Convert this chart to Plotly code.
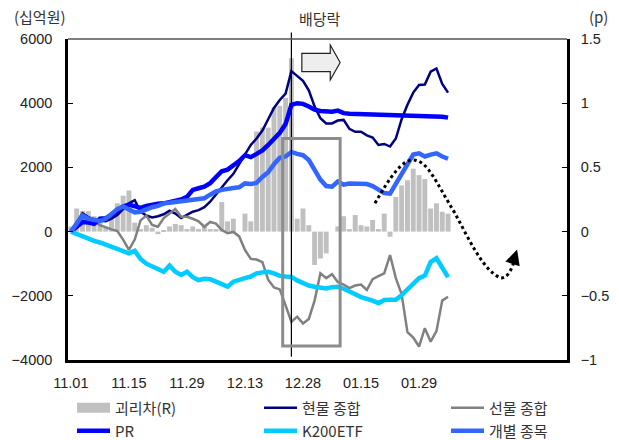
import plotly.graph_objects as go

# 거래일 인덱스 (11.01 = 0), 배당락일 = 38
days = list(range(66))
tick_pos = [0, 10, 20, 30, 40, 50, 60]
tick_labels = ['11.01', '11.15', '11.29', '12.13', '12.28', '01.15', '01.29']
ex_div_day = 38

# 괴리차 (p, 우축)
basis_gap = [0.04, 0.18, 0.16, 0.16, 0.12, 0.08, 0.03, 0.11, 0.22, 0.28,
             0.32, 0.07, 0.02, 0.05, 0.03, -0.02, 0.01, 0.04, 0.06, 0.05,
             0.02, 0.04, 0.02, 0.04, 0.02, 0.02, 0.23, 0.08, 0.10, 0.0,
             0.14, 0.08, 0.78, 0.81, 0.81, 0.97, 0.98, 1.04, 1.35, 0.10,
             0.18, 0.05, -0.26, -0.21, -0.17, 0.0, 0.04, 0.12, 0.02, 0.13,
             0.05, 0.04, 0.09, 0.02, 0.14, -0.04, 0.27, 0.36, 0.40, 0.49,
             0.44, 0.41, 0.18, 0.22, 0.155, 0.14]

# 십억원 (좌축)
spot_total = [0, 300, 570, 450, 380, 340, 320, 400, 520, 700,
              880, 980, 620, 500, 440, 480, 540, 650, 560, 420,
              520, 620, 670, 760, 930, 1150, 1400, 1600, 1800, 2100,
              2420, 2700, 2900, 3150, 3500, 3850, 4100, 4300, 5000, 4850,
              4700, 4400, 3900, 3530, 3370, 3370, 3460, 3480, 3200, 3110,
              3110, 3000, 2930, 2700, 2730, 2650, 2900, 3500, 3950, 4330,
              4570, 4580, 4980, 5080, 4600, 4330]

futures_total = [0, 200, 420, 350, 310, 200, 130, 70, 20, -250,
                 -570, -250, 350, 500, 210, 150, 420, 570, 700, 460,
                 460, 400, 320, 150, 300, 250, 50, -50, -10, -150,
                 -570, -850, -870, -950, -1500, -1740, -1800, -2300, -2810, -2650,
                 -2860, -2720, -2150, -1300, -1450, -1330, -1570, -1650, -1760, -1680,
                 -1650, -1820, -1480, -1390, -1300, -730, -1450, -1950, -3130, -3300,
                 -3580, -3010, -3430, -3100, -2150, -2030]

pr = [0, 150, 300, 280, 240, 400, 420, 520, 640, 780,
      840, 780, 740, 800, 850, 870, 880, 920, 960, 1000,
      1080, 1300, 1350, 1400, 1510, 1700, 1880, 1930, 2050, 2200,
      2380, 2320, 2420, 2530, 2700, 2900, 3080, 3350, 3950, 4000,
      3980, 3900, 3800, 3760, 3740, 3735, 3770, 3690, 3670, 3665,
      3665, 3660, 3650, 3650, 3650, 3650, 3640, 3640, 3640, 3640,
      3630, 3620, 3620, 3600, 3580, 3550]

k200etf = [0, -80, -150, -230, -290, -340, -410, -480, -540, -620,
           -680, -600, -850, -1000, -1080, -1150, -1250, -1060, -1250, -1350,
           -1250, -1420, -1510, -1470, -1480, -1560, -1640, -1715, -1560, -1490,
           -1450, -1400, -1300, -1270, -1250, -1300, -1380, -1400, -1410, -1520,
           -1620, -1680, -1720, -1760, -1770, -1730, -1720, -1780, -1850, -1950,
           -2040, -2080, -2150, -2230, -2130, -2120, -2120, -1980, -1800, -1610,
           -1450, -1370, -950, -830, -1150, -1420]

single_stocks = [0, 250, 500, 400, 350, 330, 400, 550, 700, 780,
                 700, 600, 620, 700, 760, 800, 880, 900, 920, 960,
                 985, 990, 1000, 1040, 1150, 1250, 1300, 1340, 1360, 1380,
                 1500, 1480, 1520, 1700, 1850, 2100, 2300, 2340, 2480, 2420,
                 2380, 2230, 1900, 1620, 1420, 1400, 1560, 1460, 1500, 1500,
                 1500, 1480, 1420, 1300, 1200, 1180, 1500, 1800, 2150, 2400,
                 2440, 2340, 2400, 2440, 2340, 2270]

x_range = [-0.5, 85.5]
kfont = 'Noto Sans CJK KR'
nfont = 'Liberation Sans'

# 플롯 영역 (픽셀)
W, H = 619, 440
L, R, T, B = 68, 52, 39, 80
pw, ph = W - L - R, H - T - B


def px_paper(x, y):
    return (x - L) / pw, (H - B - y) / ph


fig = go.Figure()

# 막대는 y(우축)에, 선은 y2(좌축)에 -> 선이 막대 위로 그려짐
fig.add_trace(go.Bar(x=days, y=basis_gap, marker_color='#c0c0c0', marker_line_width=0,
                     name='괴리차(R)', showlegend=False, yaxis='y'))

# 범례 칸 위치 (견본 시작 x, 행 중심 y)
col_x = [72, 259, 446]
row_y = [408, 431]

line_specs = [
    ('현물 종합', spot_total, '#000080', 2.5, 'legend2'),
    ('선물 종합', futures_total, '#808080', 2.5, 'legend3'),
    ('PR', pr, '#0000ff', 4.5, 'legend4'),
    ('K200ETF', k200etf, '#00ccff', 4.5, 'legend5'),
    ('개별 종목', single_stocks, '#3366ff', 4.5, 'legend6'),
]

# 범례용 괴리차 견본 (넓은 회색 사각형)
fig.add_trace(go.Scatter(x=[None], y=[None], mode='lines', name='괴리차(R)',
                         line=dict(color='#c0c0c0', width=12), yaxis='y2', legend='legend'))

for name, vals, color, width, leg in line_specs:
    fig.add_trace(go.Scatter(x=days, y=vals, mode='lines', name=name,
                             line=dict(color=color, width=width), yaxis='y2', legend=leg))

# 배당락 세로선
ex_frac = (ex_div_day - x_range[0]) / (x_range[1] - x_range[0])
shapes = [
    dict(type='line', xref='paper', yref='paper', x0=ex_frac, x1=ex_frac, y0=0.01, y1=1.02,
         line=dict(color='black', width=1.2)),
    # 상단 테두리
    dict(type='line', xref='paper', yref='paper', x0=0, x1=1, y0=1, y1=1,
         line=dict(color='#555555', width=1.5)),
    # 회색 박스
    dict(type='rect', xref='x', yref='y2', x0=36.5, x1=46.4, y0=-3560, y1=2900,
         line=dict(color='#8c8c8c', width=3)),
    # 블록 화살표
    dict(type='path', xref='x', yref='y2',
         path='M 39.8,4981 L 39.8,5555 L 44.7,5555 L 44.7,5813 L 46.4,5268 L 44.7,4723 L 44.7,4981 Z',
         fillcolor='#eeeeee', line=dict(color='#222222', width=1.2)),
    # 점선 곡선 (예상 경로)
    dict(type='path', xref='x', yref='y2',
         path=('M 52.4,882 C 55,1700 57,2230 59,2230 C 61.5,2230 63,1500 66.2,570 '
               'C 68.5,-200 71,-1200 74,-1440 C 75.2,-1470 76,-1200 76.6,-800'),
         line=dict(color='black', width=3, dash='dot')),
]

annotations = [
    dict(x=76.9, y=-560, xref='x', yref='y2', ax=76.3, ay=-900, axref='x', ayref='y2',
         showarrow=True, arrowhead=2, arrowsize=1.2, arrowwidth=2.5, arrowcolor='black', text=''),
]
for txt, (tx, ty) in [('(십억원)', (40, 16)), ('(p)', (598, 16)), ('배당락', (320, 18))]:
    ax_, ay_ = px_paper(tx, ty)
    annotations.append(dict(text=txt, x=ax_, y=ay_, xref='paper', yref='paper',
                            xanchor='center', yanchor='middle', showarrow=False,
                            font=dict(family=kfont, size=15, color='#333333')))

# 범례: 항목마다 하나씩, 3열 x 2행
legends = {}
names = ['legend', 'legend2', 'legend3', 'legend4', 'legend5', 'legend6']
for k, lname in enumerate(names):
    legends[lname] = dict(
        xref='container', yref='container', xanchor='left', yanchor='middle',
        x=col_x[k % 3] / W, y=1 - row_y[k // 3] / H,
        bgcolor='rgba(0,0,0,0)', itemwidth=33,
        font=dict(family=kfont, size=15, color='#333333'))

fig.update_layout(
    width=W, height=H,
    margin=dict(l=L, r=R, t=T, b=B, autoexpand=False),
    paper_bgcolor='white', plot_bgcolor='white',
    bargap=0.15,
    showlegend=True,
    **legends,
    xaxis=dict(range=x_range, tickvals=tick_pos, ticktext=tick_labels, ticks='',
               showline=True, linecolor='black', linewidth=2.5, showgrid=False, zeroline=False,
               tickfont=dict(family=nfont, size=14.5, color='#222222'), ticklabelstandoff=8,
               automargin=False),
    xaxis2=dict(range=x_range, overlaying='x', anchor='free', position=0.4, side='top',
                tickvals=[v + 9.5 for v in tick_pos] + [79.5], ticks='outside', ticklen=5,
                tickwidth=1.5, tickcolor='black', showticklabels=False, automargin=False,
                showline=True, linecolor='black', linewidth=2, showgrid=False, zeroline=False),
    yaxis=dict(range=[-1, 1.5], dtick=0.5, side='right', showline=True, linecolor='black',
               linewidth=2.5, ticks='inside', ticklen=5, tickcolor='black', showgrid=False,
               zeroline=False, tickfont=dict(family=nfont, size=14.5, color='#222222'),
               ticklabelstandoff=8, automargin=False),
    yaxis2=dict(range=[-4000, 6000], dtick=2000, overlaying='y', side='left', showline=True,
                linecolor='black', linewidth=2.5, ticks='inside', ticklen=5, tickcolor='black',
                showgrid=False, zeroline=False, tickformat='d', automargin=False,
                tickfont=dict(family=nfont, size=14.5, color='#222222'), ticklabelstandoff=10),
    shapes=shapes,
    annotations=annotations,
)

# 페이지 기본 여백(8px) 제거, 툴바 숨김
fig.write_html('out.html', config={'displayModeBar': False},
               post_script="document.body.style.margin='0px';")
